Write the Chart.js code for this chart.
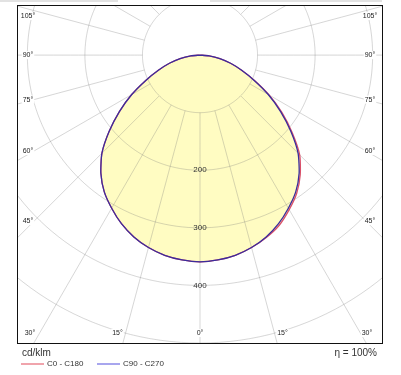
<!DOCTYPE html>
<html>
<head>
<meta charset="utf-8">
<script src="https://cdn.jsdelivr.net/npm/chart.js@4.4.0/dist/chart.umd.min.js"></script>
<style>
    html, body { margin: 0; padding: 0; background: #fff; }
    #wrap { position: relative; width: 401px; height: 375px; }
    .strip { position: absolute; top: 0; height: 2px; background: #e2e2e2; }
    canvas { display: block; }
</style>
</head>
<body>
<div id="wrap">
    <div class="strip" style="left:0;width:118px"></div>
    <div class="strip" style="left:210px;width:172px"></div>
    <canvas id="polarChart" width="401" height="375"></canvas>
</div>
<script>
// gamma angles (deg) and luminous intensity (cd/klm) per C-plane
const gammas  = [0, 5, 10, 15, 20, 25, 30, 35, 40, 45, 50, 55, 60, 65, 70, 75, 80, 85, 90];
const intC0   = [359, 357, 353, 346, 337, 326, 310, 293, 271, 245, 209, 174, 139, 105, 77, 55, 35, 16, 0];
const intC180 = [359, 357, 353, 346, 336, 323, 307, 290, 268, 241, 206, 171, 137, 104, 77, 55, 35, 16, 0];
const intC90  = [359, 357, 353, 346, 336, 323, 307, 290, 268, 241, 206, 171, 137, 104, 77, 55, 35, 16, 0];
const intC270 = [359, 357, 353, 346, 336, 323, 307, 290, 268, 241, 206, 171, 137, 104, 77, 55, 35, 16, 0];

// grid
const rings = [100, 200, 300, 400, 500, 600];
const ringLabels = [200, 300, 400];
const spokeAngles = [];
for (let a = -180; a < 180; a += 15) spokeAngles.push(a);
const sideAngleLabels = [105, 90, 75, 60, 45];
const bottomAngleLabels = [30, 15, 0];

const rad = d => d * Math.PI / 180;
const polarPoint = (gamma, value) => ({ x: value * Math.sin(rad(gamma)), y: -value * Math.cos(rad(gamma)) });

// full plane: left half (C180 / C270) then right half (C0 / C90)
const planeCurve = (leftVals, rightVals) => {
    const pts = [];
    for (let i = gammas.length - 1; i >= 0; i--) pts.push(polarPoint(-gammas[i], leftVals[i]));
    for (let i = 1; i < gammas.length; i++) pts.push(polarPoint(gammas[i], rightVals[i]));
    return pts;
};

const gridColor = 'rgba(120,120,120,0.30)';
const gridSets = [];
rings.forEach(r => {
    const pts = [];
    for (let a = 0; a <= 360; a += 2) pts.push(polarPoint(a, r));
    gridSets.push({ data: pts, borderColor: gridColor, borderWidth: 1, order: 2, tension: 0.001 });
});
spokeAngles.forEach(a => {
    gridSets.push({ data: [polarPoint(a, rings[0]), polarPoint(a, 900)], borderColor: gridColor, borderWidth: 1, order: 2, tension: 0.001 });
});

const redColor = '#d9506a';
const blueColor = '#3a2c9c';

const curveSets = [
    { label: 'C0 - C180', data: planeCurve(intC180, intC0), borderColor: redColor, borderWidth: 1.3, order: 1, tension: 0.2 },
    { label: 'C90 - C270', data: planeCurve(intC270, intC90), borderColor: blueColor, borderWidth: 1.3, order: 0, tension: 0.2 }
];

const polarDecor = {
    id: 'polarDecor',
    beforeDatasetsDraw(chart) {
        const ctx = chart.ctx;
        const area = chart.chartArea;
        ctx.save();
        ctx.beginPath();
        ctx.rect(area.left, area.top, area.right - area.left, area.bottom - area.top);
        ctx.clip();
        ctx.fillStyle = '#fffcc2';
        chart.data.datasets.forEach((ds, i) => {
            if (!ds.label) return;
            const pts = chart.getDatasetMeta(i).data;
            ctx.beginPath();
            pts.forEach((p, k) => k ? ctx.lineTo(p.x, p.y) : ctx.moveTo(p.x, p.y));
            ctx.closePath();
            ctx.fill();
        });
        ctx.restore();
    },
    afterDatasetsDraw(chart) {
        const ctx = chart.ctx;
        const area = chart.chartArea;
        const xs = chart.scales.x;
        const ys = chart.scales.y;
        const cx = xs.getPixelForValue(0);
        const cy = ys.getPixelForValue(0);
        ctx.save();
        ctx.font = '7px "Liberation Sans", Arial, sans-serif';
        ctx.textBaseline = 'middle';
        ctx.textAlign = 'center';
        const label = (txt, x, y) => {
            const w = ctx.measureText(txt).width;
            ctx.fillStyle = '#fff';
            ctx.fillRect(x - w / 2 - 1, y - 4, w + 2, 8);
            ctx.fillStyle = '#222';
            ctx.fillText(txt, x, y);
        };
        // side labels
        sideAngleLabels.forEach(a => {
            const reach = cx - (area.left + 17);
            let y = cy + reach / Math.tan(rad(a));
            y = Math.max(area.top + 11, y);
            label(a + '°', area.left + 11, y);
            label(a + '°', area.right - 13, y);
        });
        // bottom labels
        bottomAngleLabels.forEach(a => {
            const reach = (area.bottom + 20) - cy;
            const dx = reach * Math.tan(rad(a));
            const y = area.bottom - 10;
            label(a + '°', Math.max(area.left + 13, cx - dx), y);
            if (a) label(a + '°', Math.min(area.right - 16, cx + dx), y);
        });
        // intensity ring labels
        ctx.font = '8px "Liberation Sans", Arial, sans-serif';
        ctx.fillStyle = '#333';
        ringLabels.forEach(r => ctx.fillText(String(r), cx, ys.getPixelForValue(-r)));
        ctx.restore();
    },
    afterDraw(chart) {
        const ctx = chart.ctx;
        const area = chart.chartArea;
        ctx.save();
        ctx.strokeStyle = '#111';
        ctx.lineWidth = 1;
        ctx.strokeRect(area.left + 0.5, area.top + 0.5, area.right - area.left - 1, area.bottom - area.top);
        ctx.fillStyle = '#333';
        ctx.textBaseline = 'middle';
        ctx.font = '10px "Liberation Sans", Arial, sans-serif';
        ctx.textAlign = 'left';
        ctx.fillText('cd/klm', area.left + 5, area.bottom + 10);
        ctx.textAlign = 'right';
        ctx.fillText('η = 100%', area.right - 6, area.bottom + 10);
        // legend
        ctx.textAlign = 'left';
        ctx.font = '8px "Liberation Sans", Arial, sans-serif';
        const legendColors = ['#f0a4ac', '#a8a6ee'];
        const legendX = [area.left + 4, area.left + 80];
        curveSets.forEach((ds, i) => {
            const x0 = legendX[i];
            const y = area.bottom + 21;
            ctx.strokeStyle = legendColors[i];
            ctx.lineWidth = 2;
            ctx.beginPath();
            ctx.moveTo(x0, y);
            ctx.lineTo(x0 + 23, y);
            ctx.stroke();
            ctx.fillStyle = '#333';
            ctx.fillText(ds.label, x0 + 26, y);
        });
        ctx.restore();
    }
};

const chart = new Chart(document.getElementById('polarChart').getContext('2d'), {
    type: 'scatter',
    data: { datasets: [...curveSets, ...gridSets] },
    options: {
        responsive: false,
        animation: false,
        events: [],
        devicePixelRatio: 1,
        layout: { padding: { left: 17, right: 18, top: 5, bottom: 32 } },
        showLine: true,
        elements: { point: { radius: 0 } },
        plugins: { legend: { display: false }, tooltip: { enabled: false } },
        scales: {
            x: { type: 'linear', display: false, min: -318, max: 318 },
            y: { type: 'linear', display: false, min: -500, max: 87 }
        }
    },
    plugins: [polarDecor]
});
</script>
</body>
</html>
